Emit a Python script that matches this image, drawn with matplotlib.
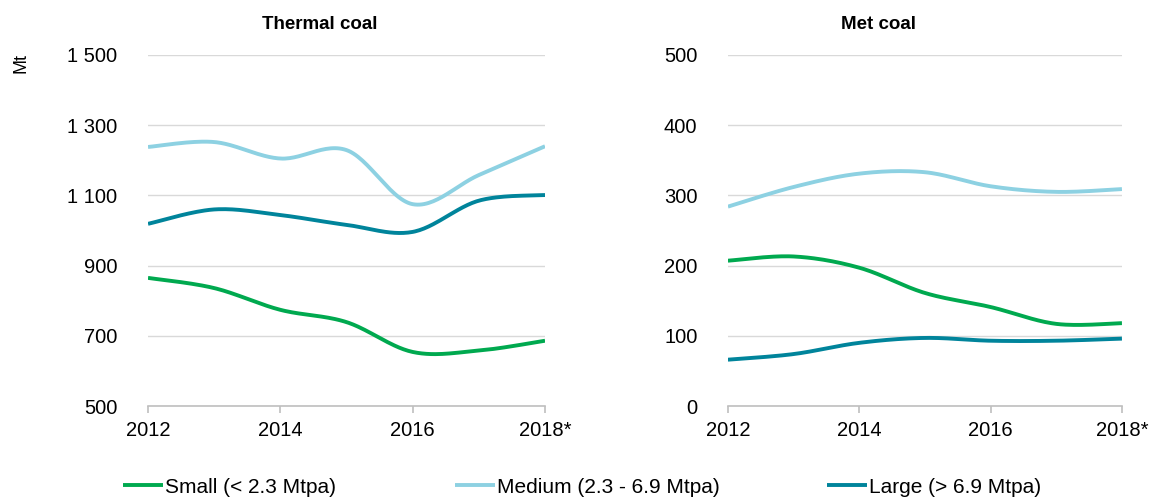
import numpy as np
import matplotlib.pyplot as plt
from matplotlib.ticker import FuncFormatter

plt.rcParams['font.family'] = ['Liberation Sans', 'DejaVu Sans']

years = [2012, 2013, 2014, 2015, 2016, 2017, 2018]
xtick_years = [2012, 2014, 2016, 2018]
xtick_labels = ['2012', '2014', '2016', '2018*']

thermal_small = [865, 836, 774, 739, 654, 658, 686]
thermal_medium = [1238, 1252, 1205, 1229, 1075, 1158, 1240]
thermal_large = [1019, 1060, 1044, 1016, 996, 1085, 1101]

met_small = [207, 213, 197, 161, 141, 117, 118]
met_medium = [284, 312, 331, 333, 313, 305, 309]
met_large = [66, 74, 90, 97, 93, 93, 96]

series_names = ['Small (< 2.3 Mtpa)', 'Medium (2.3 - 6.9 Mtpa)', 'Large (> 6.9 Mtpa)']
colors = ['#00a94f', '#8dd1e2', '#00849b']


def smooth(x, y, n=30):
    # excel-like smoothed line: cubic bezier through the points
    x = np.asarray(x, float)
    y = np.asarray(y, float)
    px = np.concatenate([[x[0]], x, [x[-1]]])
    py = np.concatenate([[y[0]], y, [y[-1]]])
    xs, ys = [], []
    t = np.linspace(0, 1, n)
    for i in range(len(x) - 1):
        p0 = np.array([x[i], y[i]])
        p3 = np.array([x[i + 1], y[i + 1]])
        p1 = p0 + (np.array([px[i + 2], py[i + 2]]) - np.array([px[i], py[i]])) / 6
        p2 = p3 - (np.array([px[i + 3], py[i + 3]]) - np.array([px[i + 1], py[i + 1]])) / 6
        pts = ((1 - t) ** 3)[:, None] * p0 + (3 * (1 - t) ** 2 * t)[:, None] * p1 \
            + (3 * (1 - t) * t ** 2)[:, None] * p2 + (t ** 3)[:, None] * p3
        xs.extend(pts[:, 0])
        ys.extend(pts[:, 1])
    return xs, ys


def style(ax, ylim, yticks, title, title_x):
    ax.set_xlim(2012, 2018)
    ax.set_ylim(*ylim)
    ax.set_yticks(yticks)
    ax.yaxis.set_major_formatter(FuncFormatter(lambda v, p: f'{int(v):,}'.replace(',', ' ')))
    ax.set_xticks(xtick_years)
    ax.set_xticklabels(xtick_labels)
    ax.grid(axis='y', color='#d9d9d9', linewidth=1)
    ax.set_axisbelow(True)
    for s in ['top', 'right', 'left']:
        ax.spines[s].set_visible(False)
    ax.spines['bottom'].set_color('#bfbfbf')
    ax.spines['bottom'].set_linewidth(1.2)
    ax.tick_params(axis='y', length=0, labelsize=14.5, pad=22)
    ax.tick_params(axis='x', length=5, color='#bfbfbf', width=1.2, labelsize=14.5, pad=6)
    ax.set_title(title, fontsize=13.5, fontweight='bold', pad=19, x=title_x)


fig = plt.figure(figsize=(11.52, 4.98), dpi=100)
ax1 = fig.add_axes([0.1285, 0.1847, 0.3446, 0.7049])
ax2 = fig.add_axes([0.6319, 0.1847, 0.3420, 0.7049])

handles = []
for vals, c, name in zip([thermal_small, thermal_medium, thermal_large], colors, series_names):
    sx, sy = smooth(years, vals)
    h, = ax1.plot(sx, sy, color=c, linewidth=2.8, label=name, solid_capstyle='butt')
    handles.append(h)
for vals, c in zip([met_small, met_medium, met_large], colors):
    sx, sy = smooth(years, vals)
    ax2.plot(sx, sy, color=c, linewidth=2.8, solid_capstyle='butt')

style(ax1, (500, 1500), [500, 700, 900, 1100, 1300, 1500], 'Thermal coal', 0.433)
style(ax2, (0, 500), [0, 100, 200, 300, 400, 500], 'Met coal', 0.381)

fig.text(0.018, 0.873, 'Mt', rotation=90, fontsize=13, ha='center', va='center')

# one legend per entry so the uneven spacing of the original can be kept
legend_x = [123, 455, 827]
for h, lx in zip(handles, legend_x):
    fig.legend(handles=[h], loc='center left', bbox_to_anchor=(lx / 1152, 0.022),
               frameon=False, fontsize=15, handlelength=1.9, handletextpad=0.12,
               borderpad=0, borderaxespad=0)

fig.savefig('out.png', dpi=100)
